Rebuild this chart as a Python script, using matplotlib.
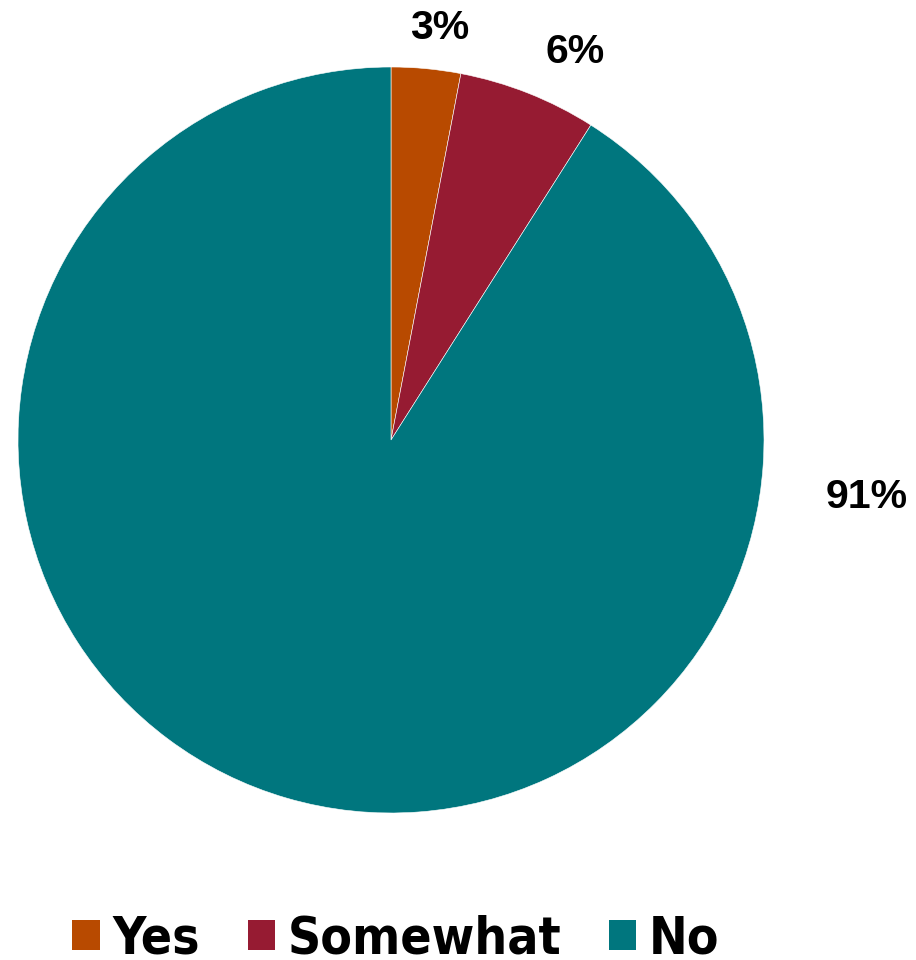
import matplotlib.pyplot as plt
from matplotlib.patches import Patch

# survey answers, share of respondents
answers = ['Yes', 'Somewhat', 'No']
shares = [3, 6, 91]
colors = ['#B84A00', '#961B32', '#00767E']

# where each percent label sits, offset from the pie centre (px)
label_offsets = [(49, 412), (184, 388), (476, -57)]

fig = plt.figure(figsize=(9.16, 9.6), dpi=100)
ax = fig.add_axes([0, 0, 1, 1])
ax.axis('off')

ax.pie(shares, colors=colors, radius=373, startangle=90, counterclock=False,
       wedgeprops=dict(edgecolor='white', linewidth=0.4))

# axes units equal pixels, pie centred at (391, 440) from top-left
ax.set_xlim(-391, 916 - 391)
ax.set_ylim(-(960 - 440), 440)

for val, (dx, dy) in zip(shares, label_offsets):
    ax.text(dx, dy, '%d%%' % val, ha='center', va='center',
            fontsize=29.5, fontweight='bold', fontstretch='normal',
            family='Liberation Sans')

handles = [Patch(facecolor=c, edgecolor='none') for c in colors]
fig.legend(handles, answers, loc='center', bbox_to_anchor=(396 / 916, 1 - 939 / 960),
           ncol=3, frameon=False, handlelength=0.53, handleheight=0.53,
           handletextpad=0.25, columnspacing=0.93, borderpad=0,
           prop=dict(family='DejaVu Sans', stretch='condensed', weight='bold', size=37))

fig.savefig('out.png', dpi=100)
